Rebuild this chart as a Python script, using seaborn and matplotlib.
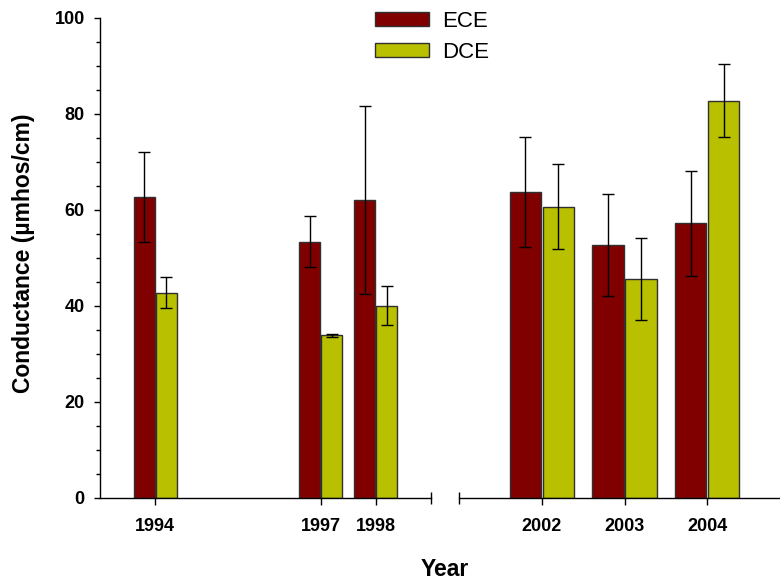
import numpy as np
import pandas as pd
import seaborn as sns
import matplotlib.pyplot as plt

# ====================================================================
# Data
# ====================================================================
years = [1994, 1997, 1998, 2002, 2003, 2004]
ece_mean = [62.7, 53.4, 62.1, 63.7, 52.7, 57.2]
ece_err = [9.4, 5.3, 19.5, 11.5, 10.6, 11.0]
dce_mean = [42.8, 33.9, 40.1, 60.7, 45.6, 82.8]
dce_err = [3.2, 0.3, 4.1, 8.9, 8.5, 7.6]

groups = ["ECE", "DCE"]
colors = {"ECE": "#800000", "DCE": "#b8c000"}
y_ticks = [0, 20, 40, 60, 80, 100]

df = pd.DataFrame({
    "year": years * 2,
    "group": ["ECE"] * len(years) + ["DCE"] * len(years),
    "value": ece_mean + dce_mean,
    "err": ece_err + dce_err,
})
err_lookup = {(r.year, r.group): r.err for r in df.itertuples()}

sns.set_style("ticks", {"text.color": "black", "axes.labelcolor": "black",
                        "xtick.color": "black", "ytick.color": "black",
                        "axes.edgecolor": "black"})
plt.rcParams['font.family'] = ['Liberation Sans', 'DejaVu Sans']

fig = plt.figure(figsize=(7.8, 5.83), dpi=100)
ax_l = fig.add_axes([100 / 780, 85 / 583, 331 / 780, 480 / 583])
ax_r = fig.add_axes([459 / 780, 85 / 583, 331 / 780, 480 / 583])

panels = [
    (ax_l, df[df.year < 2000], (1993, 1999)),
    (ax_r, df[df.year > 2000], (2001, 2005)),
]

for ax, sub, xlim in panels:
    sns.barplot(data=sub, x="year", y="value", hue="group", hue_order=groups,
                palette=colors, saturation=1, native_scale=True, gap=0.06,
                errorbar=None, edgecolor="#303030", linewidth=1,
                legend=(ax is ax_l), ax=ax)

    # error bars at the centre of each bar seaborn drew
    for cont, grp in zip(ax.containers, groups):
        for bar in cont:
            xc = bar.get_x() + bar.get_width() / 2
            h = bar.get_height()
            e = err_lookup[(int(round(xc)), grp)]
            ax.errorbar(xc, h, yerr=e, fmt='none', ecolor='black',
                        elinewidth=1, capsize=4.3, capthick=1, zorder=5)

    ax.set_xlim(*xlim)
    ax.set_ylim(0, 100)
    ax.set_xticks(sorted(sub.year.unique()))
    ax.set_xticklabels([str(y) for y in sorted(sub.year.unique())],
                       fontsize=13, fontweight='bold')
    ax.tick_params(axis='x', which='major', direction='out', length=5,
                   width=1, pad=9.5, colors='black')
    # break marks at the cut ends of the x axis
    ax.set_xticks([xlim[1]] if ax is ax_l else [xlim[0]], minor=True)
    ax.tick_params(axis='x', which='minor', direction='inout', length=8,
                   width=1, colors='black')
    ax.set_xlabel("")
    ax.set_ylabel("")
    ax.spines['top'].set_visible(False)
    ax.spines['right'].set_visible(False)
    ax.spines['bottom'].set_linewidth(1)
    ax.spines['bottom'].set_color('black')
    ax.patch.set_alpha(0)

# left panel y axis
ax_l.set_yticks(y_ticks)
ax_l.set_yticklabels([str(v) for v in y_ticks], fontsize=13, fontweight='bold')
ax_l.set_yticks(np.arange(0, 101, 5), minor=True)
ax_l.tick_params(axis='y', which='major', direction='out', length=4, width=1,
                 pad=7, colors='black')
ax_l.tick_params(axis='y', which='minor', direction='out', length=3, width=1,
                 colors='black')
ax_l.spines['left'].set_linewidth(1)
ax_l.spines['left'].set_color('black')
ax_l.set_ylabel("Conductance (µmhos/cm)", fontsize=16.5, fontweight='bold')
ax_l.yaxis.set_label_coords(-0.197, 0.51)

# right panel: no y axis
ax_r.spines['left'].set_visible(False)
ax_r.tick_params(axis='y', which='both', left=False, labelleft=False)

# legend moved to the top centre of the figure
leg = ax_l.get_legend()
handles = leg.legend_handles
labels = [t.get_text() for t in leg.texts]
leg.remove()
fig.legend(handles, labels, loc='upper left', bbox_to_anchor=(375 / 780, 1 - 11 / 583),
           frameon=False, fontsize=16, handlelength=2.45, handleheight=0.62,
           handletextpad=0.55, labelspacing=0.45, borderpad=0, borderaxespad=0)

fig.text(445 / 780, 7 / 583, "Year", ha='center', va='baseline',
         fontsize=16.5, fontweight='bold')

plt.savefig('out.png', dpi=100)
